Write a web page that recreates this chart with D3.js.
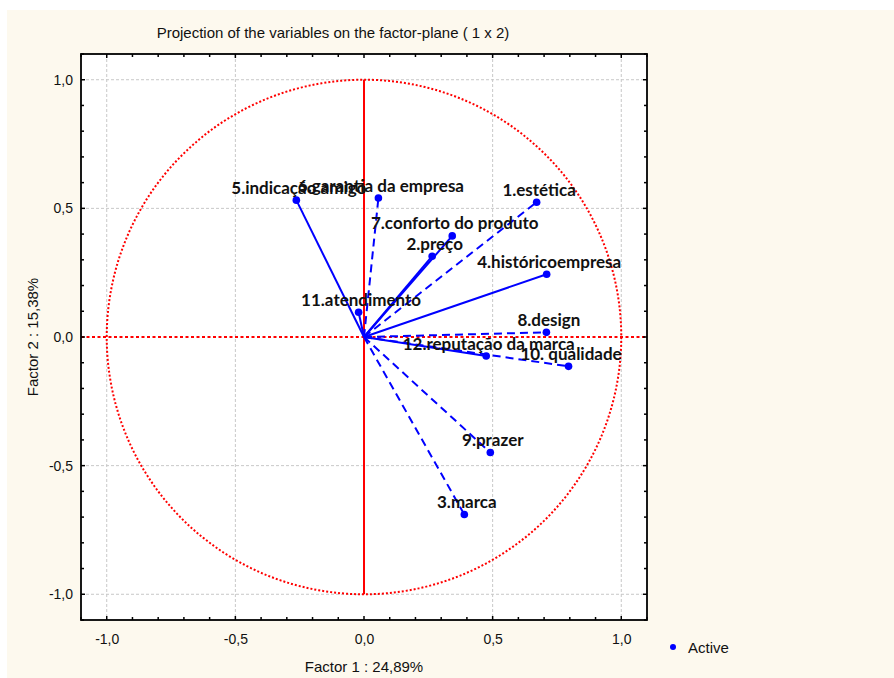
<!DOCTYPE html>
<html>
<head>
<meta charset="utf-8">
<script src="https://cdn.jsdelivr.net/npm/d3@7"></script>
<style>
  html, body { margin: 0; padding: 0; background: #ffffff; }
  svg { display: block; }
</style>
</head>
<body>
<svg id="chart" width="894" height="678"></svg>
<script>
// ---- data ----
const variables = [
  "1.estética", "2.preço", "3.marca", "4.históricoempresa", "5.indicação amigo",
  "6.garantia da empresa", "7.conforto do produto", "8.design", "9.prazer",
  "10. qualidade", "11.atendimento", "12.reputação da marca"
];
const factor1 = [0.671, 0.265, 0.390, 0.710, -0.263, 0.056, 0.343, 0.709, 0.491, 0.795, -0.021, 0.475];
const factor2 = [0.524, 0.314, -0.690, 0.244, 0.532, 0.540, 0.393, 0.018, -0.449, -0.114, 0.096, -0.074];
const dashedVariables = ["1.estética", "3.marca", "6.garantia da empresa", "8.design", "9.prazer", "10. qualidade"];
const majorTicks = [-1.0, -0.5, 0.0, 0.5, 1.0];
const tickLabels = ["-1,0", "-0,5", "0,0", "0,5", "1,0"];
const minorTicks = d3.range(-11, 12).map(i => i / 10);
const title = "Projection of the variables on the factor-plane (  1 x  2)";
const xTitle = "Factor 1 : 24,89%";
const yTitle = "Factor 2 : 15,38%";
const legendLabel = "Active";

// ---- layout ----
const svg = d3.select("#chart");
const W = 894, H = 678;
const plot = { left: 81, right: 647, top: 54, bottom: 620 };
const x = d3.scaleLinear().domain([-1.1, 1.1]).range([plot.left, plot.right]);
const y = d3.scaleLinear().domain([-1.1, 1.1]).range([plot.bottom, plot.top]);

const narrow = "'Liberation Sans Narrow', 'Arial Narrow', 'Liberation Sans', Arial, sans-serif";
const blue = "#0000ff";
const red = "#ff0000";

// backgrounds
svg.append("rect").attr("x", 0).attr("y", 0).attr("width", W).attr("height", H).attr("fill", "#ffffff");
svg.append("rect").attr("x", 7).attr("y", 10).attr("width", W - 7).attr("height", H - 10).attr("fill", "#fdf9ee");
svg.append("rect").attr("x", plot.left).attr("y", plot.top)
  .attr("width", plot.right - plot.left).attr("height", plot.bottom - plot.top).attr("fill", "#ffffff");

// grid
const grid = svg.append("g");
majorTicks.filter(d => d !== 0).forEach(d => {
  grid.append("line").attr("x1", x(d)).attr("x2", x(d)).attr("y1", plot.top).attr("y2", plot.bottom)
    .attr("stroke", "#c8c8c8").attr("stroke-width", 1).attr("stroke-dasharray", "3,2");
  grid.append("line").attr("y1", y(d)).attr("y2", y(d)).attr("x1", plot.left).attr("x2", plot.right)
    .attr("stroke", "#c8c8c8").attr("stroke-width", 1).attr("stroke-dasharray", "3,2");
});

// unit circle
svg.append("circle").attr("cx", x(0)).attr("cy", y(0)).attr("r", x(1) - x(0))
  .attr("fill", "none").attr("stroke", red).attr("stroke-width", 2).attr("stroke-dasharray", "2,2");

// reference lines
svg.append("line").attr("x1", plot.left).attr("x2", plot.right).attr("y1", y(0)).attr("y2", y(0))
  .attr("stroke", red).attr("stroke-width", 2).attr("stroke-dasharray", "3,2.5");
svg.append("line").attr("x1", x(0)).attr("x2", x(0)).attr("y1", y(1)).attr("y2", y(-1))
  .attr("stroke", red).attr("stroke-width", 2);

// vectors
const data = variables.map((v, i) => ({ name: v, f1: factor1[i], f2: factor2[i], dashed: dashedVariables.includes(v) }));
const vec = svg.append("g");
vec.selectAll("line").data(data).join("line")
  .attr("x1", x(0)).attr("y1", y(0))
  .attr("x2", d => x(d.f1)).attr("y2", d => y(d.f2))
  .attr("stroke", blue).attr("stroke-width", 2)
  .attr("stroke-dasharray", d => d.dashed ? "8,5" : null);
vec.selectAll("circle").data(data).join("circle")
  .attr("cx", d => x(d.f1)).attr("cy", d => y(d.f2)).attr("r", 3.8).attr("fill", blue);
vec.selectAll("text").data(data).join("text")
  .attr("x", d => x(d.f1) + 2.5).attr("y", d => y(d.f2) - 6.5)
  .attr("text-anchor", "middle")
  .attr("font-family", "Lato, 'Open Sans', sans-serif").attr("font-weight", "bold").attr("font-size", 17)
  .attr("fill", "#111111")
  .text(d => d.name);

// frame
svg.append("rect").attr("x", plot.left).attr("y", plot.top)
  .attr("width", plot.right - plot.left).attr("height", plot.bottom - plot.top)
  .attr("fill", "none").attr("stroke", "#000").attr("stroke-width", 1.8);

// axes (labels) and inward ticks
const axBottom = d3.axisBottom(x).tickValues(majorTicks).tickFormat((d, i) => tickLabels[i]).tickSize(0).tickPadding(14);
const gB = svg.append("g").attr("transform", `translate(0,${plot.bottom})`).call(axBottom);
gB.select(".domain").remove();
gB.selectAll("text").attr("font-family", narrow).attr("font-size", 14).attr("fill", "#111");

const axLeft = d3.axisLeft(y).tickValues(majorTicks).tickFormat((d, i) => tickLabels[i]).tickSize(0).tickPadding(8);
const gL = svg.append("g").attr("transform", `translate(${plot.left},0)`).call(axLeft);
gL.select(".domain").remove();
gL.selectAll("text").attr("font-family", narrow).attr("font-size", 14).attr("fill", "#111");

const tg = svg.append("g").attr("stroke", "#000").attr("stroke-width", 1.5);
minorTicks.forEach(t => {
  const isMajor = Math.abs(t * 2 - Math.round(t * 2)) < 1e-6;
  const len = isMajor ? 4 : 3;
  tg.append("line").attr("x1", x(t)).attr("x2", x(t)).attr("y1", plot.bottom).attr("y2", plot.bottom - len);
  tg.append("line").attr("x1", x(t)).attr("x2", x(t)).attr("y1", plot.top).attr("y2", plot.top + len);
  tg.append("line").attr("y1", y(t)).attr("y2", y(t)).attr("x1", plot.left).attr("x2", plot.left + len);
  tg.append("line").attr("y1", y(t)).attr("y2", y(t)).attr("x1", plot.right).attr("x2", plot.right - len);
});

// titles
svg.append("text").attr("x", 333).attr("y", 38).attr("text-anchor", "middle")
  .attr("font-family", narrow).attr("font-size", 15).attr("fill", "#111").text(title);
svg.append("text").attr("x", x(0)).attr("y", 672).attr("text-anchor", "middle")
  .attr("font-family", narrow).attr("font-size", 15).attr("fill", "#111").text(xTitle);
svg.append("text").attr("transform", `translate(38,${y(0)}) rotate(-90)`).attr("text-anchor", "middle")
  .attr("font-family", narrow).attr("font-size", 15).attr("fill", "#111").text(yTitle);

// legend
svg.append("circle").attr("cx", 673).attr("cy", 647).attr("r", 3).attr("fill", blue);
svg.append("text").attr("x", 688).attr("y", 653).attr("font-family", narrow).attr("font-size", 15)
  .attr("fill", "#111").text(legendLabel);
</script>
</body>
</html>
